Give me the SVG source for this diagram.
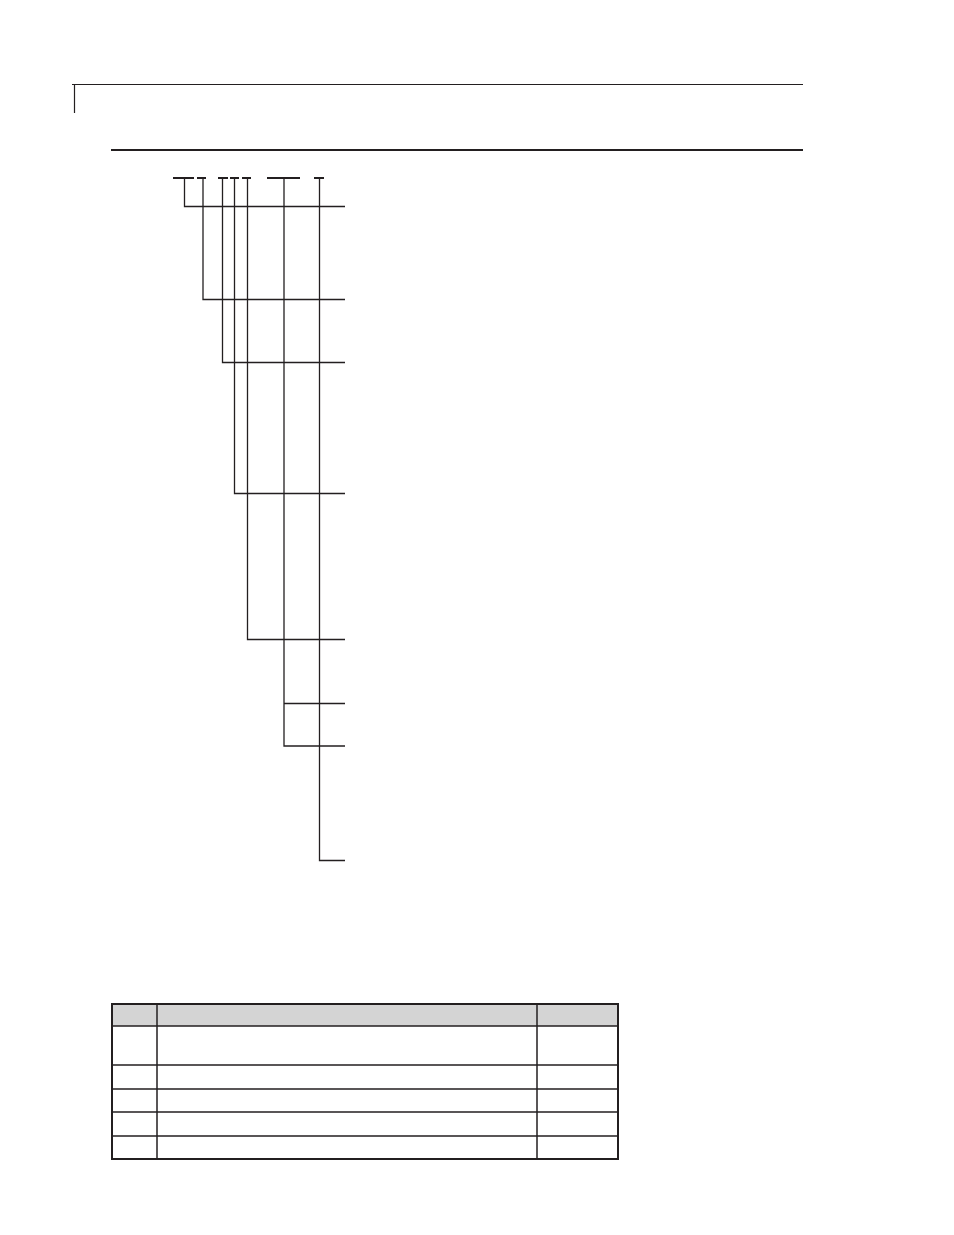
<svg xmlns="http://www.w3.org/2000/svg" width="954" height="1235" viewBox="0 0 954 1235">
<style>
.rule{stroke:#231f20;stroke-width:1.2;fill:none}
.thick{stroke:#231f20;stroke-width:2.2;fill:none}
.ul{stroke:#231f20;stroke-width:2.2;fill:none}
.conn{stroke:#231f20;stroke-width:1.3;fill:none}
.tbl{stroke:#231f20;stroke-width:1.5;fill:none}
.tblo{stroke:#231f20;stroke-width:2;fill:none}
</style>
<rect width="954" height="1235" fill="#fff"/>
<g id="page-header">
<path class="rule" d="M72 84.5H803M74.5 84V113"/>
<path class="thick" d="M111 150H803"/>
</g>
<g id="code-segments">
<path class="ul" d="M173 178H194M197 178H206M218 178H228M230 178H239M242 178H251M267 178H300M314 178H324"/>
</g>
<g id="connectors">
<path class="conn" d="M184.5 178V206.5H345"/>
<path class="conn" d="M203 178V299.5H345"/>
<path class="conn" d="M222.5 178V362.5H345"/>
<path class="conn" d="M234.5 178V493.5H345"/>
<path class="conn" d="M247.5 178V639.5H345"/>
<path class="conn" d="M284 178V746H345M284 703.5H345"/>
<path class="conn" d="M319.5 178V860.5H345"/>
</g>
<g id="table">
<rect x="112" y="1004" width="506" height="22" fill="#d4d4d4"/>
<path class="tbl" d="M112 1026H618M112 1065H618M112 1089H618M112 1112H618M112 1136H618M157 1004V1159M537 1004V1159"/>
<rect class="tblo" x="112" y="1004" width="506" height="155"/>
</g>
</svg>
